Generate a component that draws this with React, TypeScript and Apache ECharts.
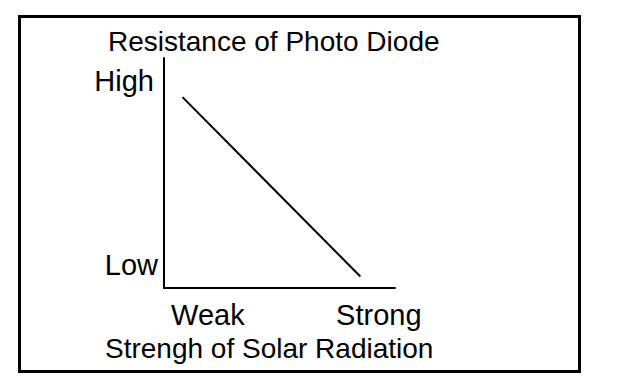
import React, { useEffect, useRef } from "react";
import * as echarts from "echarts";

const lineX = [8, 85];
const lineY = [83, 5];
const xTickValues = [19, 93];
const xTickLabels = ["Weak", "Strong"];
const yTickValues = [10, 90];
const yTickLabels = ["Low", "High"];
const chartTitle = "Resistance of Photo Diode";
const xTitle = "Strengh of Solar Radiation";

const FONT = "'Liberation Sans', Arial, Helvetica, sans-serif";

export default function App() {
  const ref = useRef<HTMLDivElement>(null);
  useEffect(() => {
    if (!ref.current) return;
    const chart = echarts.init(ref.current, null, { renderer: "svg" });
    const data = lineX.map((x, i) => [x, lineY[i]]);
    chart.setOption({
      animation: false,
      backgroundColor: "#ffffff",
      title: [
        {
          text: chartTitle,
          left: 108,
          top: 27,
          padding: 0,
          textStyle: { fontFamily: FONT, fontSize: 28, fontWeight: "normal", color: "#000" },
        },
        {
          text: xTitle,
          left: 105,
          top: 334,
          padding: 0,
          textStyle: { fontFamily: FONT, fontSize: 28, fontWeight: "normal", color: "#000" },
        },
      ],
      graphic: [
        {
          type: "rect",
          shape: { x: 19.5, y: 16.5, width: 560, height: 355 },
          style: { fill: "none", stroke: "#000", lineWidth: 3 },
          silent: true,
        },
      ],
      grid: { left: 164, right: 229, top: 58, bottom: 98, containLabel: false },
      xAxis: {
        type: "value",
        min: 0,
        max: 100,
        splitLine: { show: false },
        axisTick: { show: false },
        axisLine: { show: true, onZero: false, lineStyle: { color: "#000", width: 2 } },
        axisLabel: {
          customValues: xTickValues,
          formatter: (v: number) => {
            const i = xTickValues.indexOf(v);
            return i >= 0 ? xTickLabels[i] : "";
          },
          margin: 12,
          fontFamily: FONT,
          fontSize: 29,
          color: "#000",
          lineHeight: 29,
        },
      },
      yAxis: {
        type: "value",
        min: 0,
        max: 100,
        splitLine: { show: false },
        axisTick: { show: false },
        axisLine: { show: true, onZero: false, lineStyle: { color: "#000", width: 2 } },
        axisLabel: {
          customValues: yTickValues,
          formatter: (v: number) => {
            const i = yTickValues.indexOf(v);
            if (i < 0) return "";
            return i === 1 ? "{h|" + yTickLabels[i] + "}" : "{l|" + yTickLabels[i] + "}";
          },
          margin: 6,
          fontFamily: FONT,
          fontSize: 29,
          color: "#000",
          rich: {
            h: { fontFamily: FONT, fontSize: 29, color: "#000", padding: [0, 4, 0, 0] },
            l: { fontFamily: FONT, fontSize: 29, color: "#000" },
          },
        },
      },
      series: [
        {
          type: "line",
          data,
          symbol: "none",
          lineStyle: { color: "#000", width: 2 },
          silent: true,
        },
      ],
    });
    return () => chart.dispose();
  }, []);
  return (
    <div
      ref={ref}
      style={{ position: "fixed", left: 0, top: 0, width: 624, height: 386 }}
    />
  );
}
